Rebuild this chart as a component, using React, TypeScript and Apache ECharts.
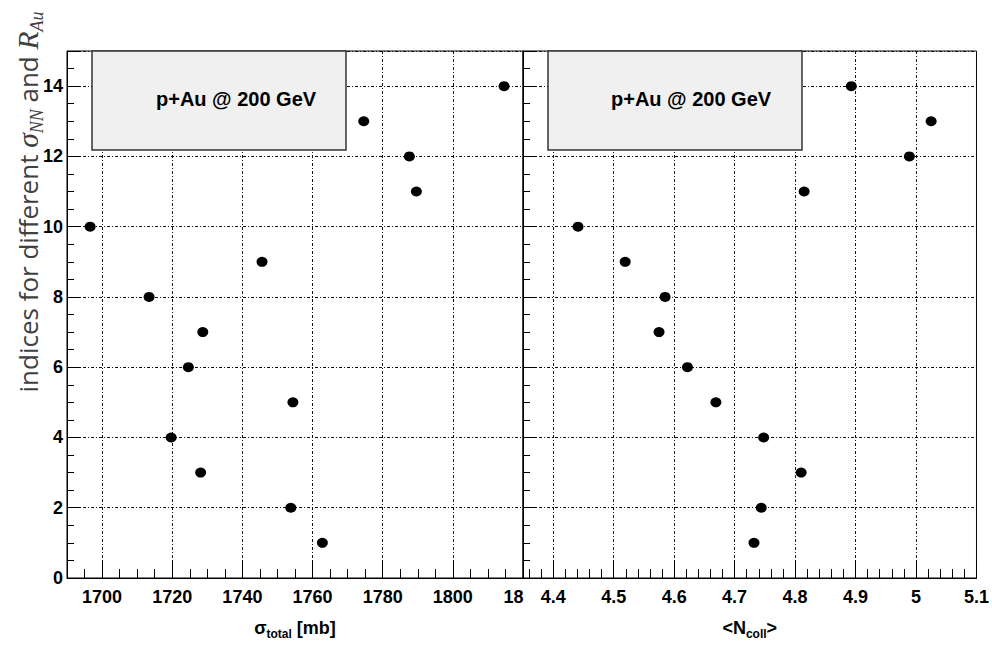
import React, { useEffect, useRef } from "react";
import * as echarts from "echarts";

// ---- data ----
const indices = [1, 2, 3, 4, 5, 6, 7, 8, 9, 10, 11, 12, 13, 14];
const sigmaTotal = [1762.8, 1753.8, 1728.1, 1719.7, 1754.4, 1724.6, 1728.7, 1713.4, 1745.6, 1696.6, 1789.6, 1787.6, 1774.6, 1814.6];
const nColl = [4.732, 4.744, 4.81, 4.748, 4.669, 4.622, 4.575, 4.585, 4.519, 4.441, 4.815, 4.989, 5.025, 4.893];
const sigmaRange = [1690, 1820];
const nCollRange = [4.35, 5.1];
const yRange = [0, 15];
const legendText = "p+Au @ 200 GeV";
const yTitle = "{t|indices for different }{m|σ}{s|NN}{t| and }{m|R}{s|Au}";
const xTitleLeft = "{n|σ}{s|total}{n| [mb]}";
const xTitleRight = "{n|<N}{s|coll}{n|>}";

const FONT = "'Liberation Sans', Arial, Helvetica, sans-serif";
const BLACK = "#000";

const labelStyle = { fontFamily: FONT, fontSize: 18, fontWeight: "bold" as const, color: BLACK };
const gridLine = { show: true, lineStyle: { color: "#111", width: 1, type: [3, 2, 1, 2] } };
const nameRich = {
  n: { fontFamily: FONT, fontSize: 18, fontWeight: "bold" as const, color: BLACK, lineHeight: 24, verticalAlign: "middle" as const },
  s: { fontFamily: FONT, fontSize: 12, fontWeight: "bold" as const, color: BLACK, lineHeight: 24, verticalAlign: "bottom" as const },
};

function xAxisBase(range: number[], minorSplit: number, fmt: (v: number) => string, name: string) {
  return {
    type: "value" as const,
    min: range[0],
    max: range[1],
    splitNumber: 7,
    name,
    nameLocation: "middle" as const,
    nameGap: 38,
    nameTextStyle: { rich: nameRich },
    axisLine: { show: true, onZero: false, lineStyle: { color: BLACK, width: 1 } },
    axisTick: { show: true, inside: true, length: 18, lineStyle: { color: BLACK, width: 1 } },
    minorTick: { show: true, splitNumber: minorSplit, length: 9, lineStyle: { color: BLACK, width: 1 } },
    axisLabel: {
      ...labelStyle,
      margin: 10,
      formatter: fmt,
      rich: { cut: { ...labelStyle, padding: [0, 19, 0, 0] } },
    },
    splitLine: gridLine,
  };
}

function yAxisBase(showLabels: boolean, gridIndex: number) {
  return {
    type: "value" as const,
    gridIndex,
    min: yRange[0],
    max: yRange[1],
    interval: 2,
    axisLine: { show: true, lineStyle: { color: BLACK, width: 1 } },
    axisTick: { show: true, inside: true, length: 14, lineStyle: { color: BLACK, width: 1 } },
    minorTick: { show: true, splitNumber: 4, length: 7, lineStyle: { color: BLACK, width: 1 } },
    axisLabel: {
      show: showLabels,
      ...labelStyle,
      margin: 4,
      formatter: (v: number) => (Math.abs(v % 2) < 1e-9 ? String(v) : ""),
    },
    splitLine: gridLine,
  };
}

function legendBox(x: number, w: number, textX: number) {
  return {
    type: "group",
    z: 20,
    children: [
      {
        type: "rect",
        z: 20,
        shape: { x, y: 51, width: w, height: 99 },
        style: { fill: "#f0f0f0", stroke: "#333", lineWidth: 1.5 },
      },
      {
        type: "text",
        z: 21,
        x: textX,
        y: 99,
        style: {
          text: legendText,
          fontFamily: FONT,
          fontSize: 20,
          fontWeight: "bold",
          fill: BLACK,
          align: "left",
          verticalAlign: "middle",
        },
      },
    ],
  };
}

export default function App() {
  const ref = useRef<HTMLDivElement>(null);
  useEffect(() => {
    if (!ref.current) return;
    const chart = echarts.init(ref.current, null, { renderer: "svg" });
    const option = {
      animation: false,
      backgroundColor: "#fff",
      grid: [
        { left: 67, width: 456, top: 51, height: 531, show: true, borderColor: BLACK, borderWidth: 1, backgroundColor: "transparent" },
        { left: 523, width: 455, top: 51, height: 531, show: true, borderColor: BLACK, borderWidth: 1, backgroundColor: "transparent" },
      ],
      xAxis: [
        {
          ...xAxisBase(sigmaRange, 4, (v: number) => {
            if (v === sigmaRange[0]) return "";
            if (v === sigmaRange[1]) return "{cut|18}";
            return String(v);
          }, xTitleLeft),
          gridIndex: 0,
        },
        {
          ...xAxisBase(nCollRange, 5, (v: number) => {
            const r = Math.round(v * 10) / 10;
            if (Math.abs(v - r) > 1e-6) return "";
            return String(r);
          }, xTitleRight),
          gridIndex: 1,
        },
      ],
      yAxis: [yAxisBase(true, 0), yAxisBase(false, 1)],
      series: [
        {
          type: "scatter",
          xAxisIndex: 0,
          yAxisIndex: 0,
          symbol: "circle",
          symbolSize: [11, 10],
          itemStyle: { color: BLACK, opacity: 1 },
          z: 5,
          data: indices.map((y, i) => [sigmaTotal[i], y]),
        },
        {
          type: "scatter",
          xAxisIndex: 1,
          yAxisIndex: 1,
          symbol: "circle",
          symbolSize: [11, 10],
          itemStyle: { color: BLACK, opacity: 1 },
          z: 5,
          data: indices.map((y, i) => [nColl[i], y]),
        },
      ],
      graphic: [
        legendBox(92, 254, 156),
        legendBox(548, 254, 611),
        {
          type: "text",
          z: 30,
          x: 28,
          y: 202,
          rotation: Math.PI / 2,
          style: {
            text: yTitle,
            align: "center",
            verticalAlign: "middle",
            rich: {
              t: { fontFamily: "'Open Sans', 'Noto Sans', sans-serif", fontSize: 26, fill: "#404040", lineHeight: 36, verticalAlign: "middle" },
              m: { fontFamily: "'Liberation Serif', 'DejaVu Serif', serif", fontStyle: "italic", fontSize: 29.5, fill: "#404040", lineHeight: 36, verticalAlign: "middle" },
              s: { fontFamily: "'Liberation Serif', 'DejaVu Serif', serif", fontStyle: "italic", fontSize: 18, fill: "#404040", lineHeight: 36, verticalAlign: "bottom" },
            },
          },
        },
      ],
    };
    chart.setOption(option as any);
    return () => chart.dispose();
  }, []);
  return (
    <div
      ref={ref}
      style={{ position: "fixed", left: 0, top: 0, width: 992, height: 645, background: "#fff" }}
    />
  );
}
